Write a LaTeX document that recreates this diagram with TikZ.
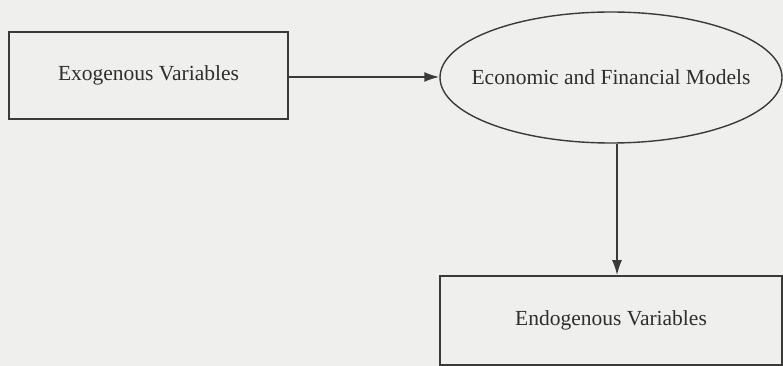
\documentclass[tikz,border=0pt]{standalone}
\usepackage{fontspec}
\setmainfont{Liberation Serif}
\usetikzlibrary{shapes.geometric,arrows.meta}
\definecolor{paper}{HTML}{EFEFED}
\definecolor{ink}{HTML}{3A3A3A}
\definecolor{txt}{HTML}{2E2E2E}
\tikzset{
  boxnode/.style={draw=ink, line width=1.6pt, rectangle, inner sep=0pt, text=txt,
    font=\fontsize{21.5}{26}\selectfont},
  ellnode/.style={draw=ink, line width=1.4pt, ellipse, inner sep=0pt, text=txt,
    font=\fontsize{21.5}{26}\selectfont},
  conn/.style={draw=ink, line width=1.8pt, -{Latex[length=15pt,width=10pt]}}
}
\begin{document}
\begin{tikzpicture}[x=1pt,y=-1pt]
\fill[paper] (0,0) rectangle (783,366);
\useasboundingbox (0,0) rectangle (783,366);
\node[boxnode, minimum width=279pt, minimum height=87pt] (exo) at (148.5,75.5) {Exogenous Variables};
\node[ellnode, minimum width=342pt, minimum height=131pt] (ell) at (611,77.5) {\makebox[0pt]{Economic and Financial Models}};
\node[boxnode, minimum width=342pt, minimum height=89pt] (endo) at (611,320.5) {Endogenous Variables};
\draw[conn] ([yshift=-1.5pt]exo.east) -- ([yshift=-1.5pt]exo.east -| ell.west);
\draw[conn] ([xshift=6pt]ell.south) -- ([xshift=6pt]ell.south |- endo.north);
\end{tikzpicture}
\end{document}
